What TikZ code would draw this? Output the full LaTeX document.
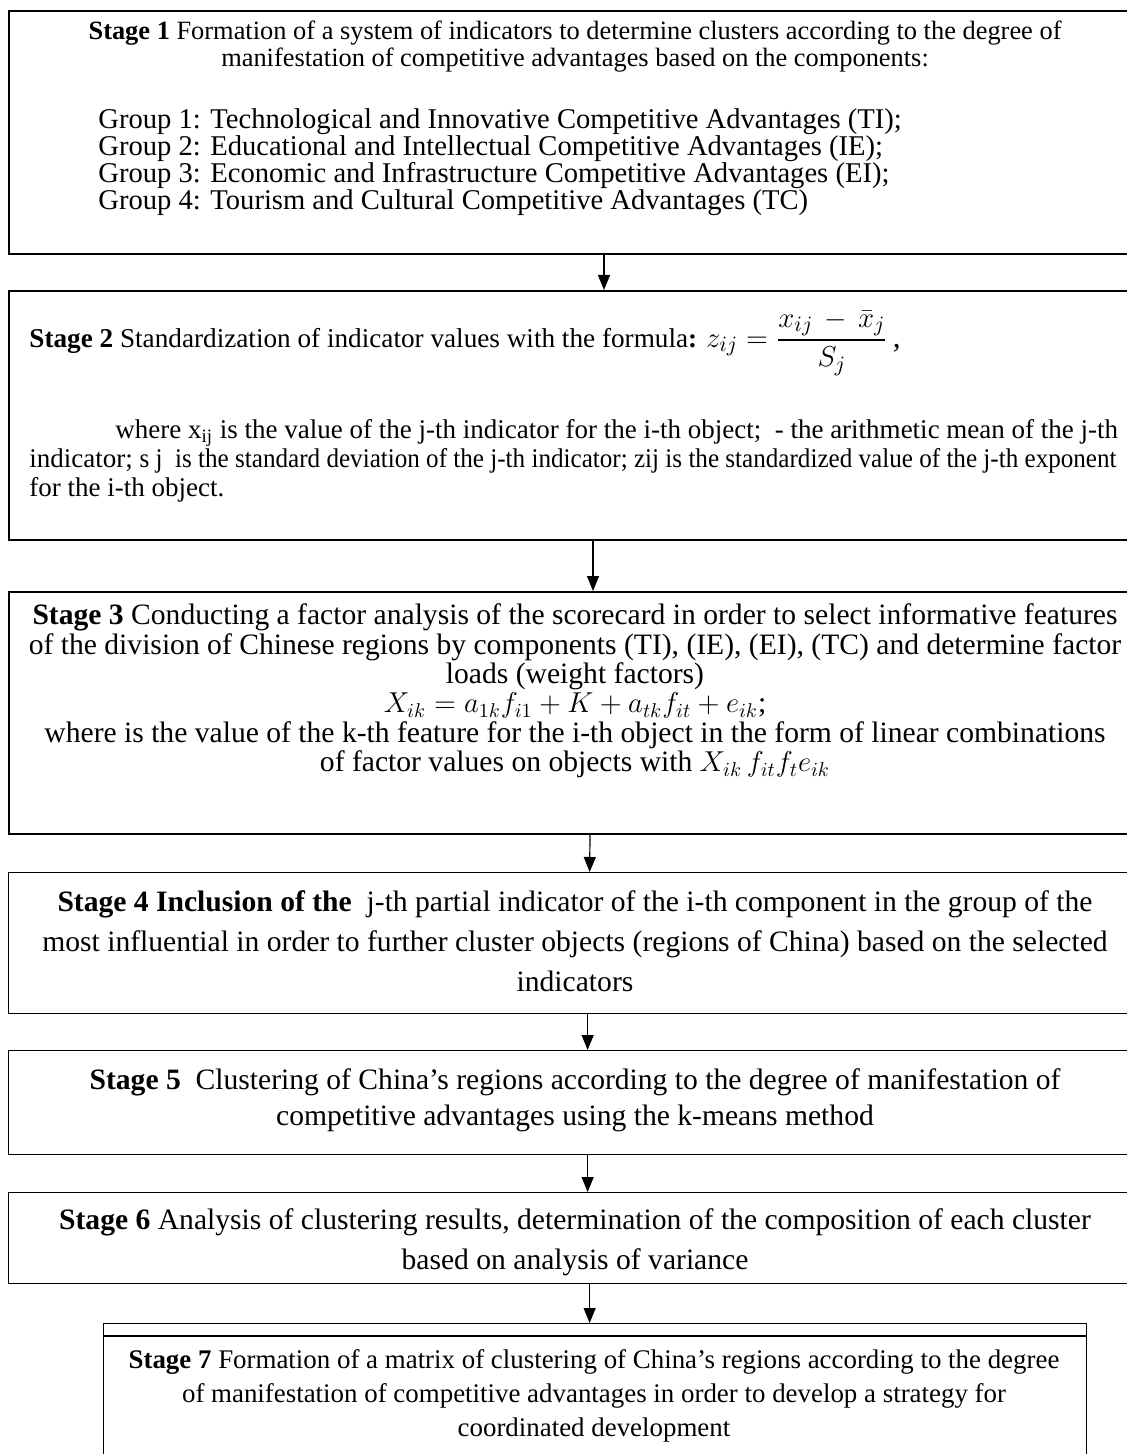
\documentclass[tikz,border=0pt]{standalone}
\usepackage{fontspec}
\setmainfont{Liberation Serif}
\usepackage{amsmath}
\usepackage{graphicx}
\usetikzlibrary{arrows.meta}

\newcommand{\fsz}[2]{\fontsize{#1}{#2}\selectfont}

\begin{document}
\begin{tikzpicture}[x=0.5pt,y=-0.5pt,
	stagebox/.style={draw,line width=0.65pt,inner sep=0pt,anchor=north west,minimum width=567pt},
	arr/.style={-{Triangle[length=7.5pt,width=6pt]},line width=0.6pt},
	txt/.style={align=center,inner sep=0pt}]
	\useasboundingbox (0,0) rectangle (1126,1454);
	\node[stagebox,line width=1pt,minimum height=121.5pt] (s1) at (8,10) {};
	\node[stagebox,line width=1pt,minimum height=124.5pt] (s2) at (8,290) {};
	\node[stagebox,line width=1pt,minimum height=121pt] (s3) at (8,591) {};
	\node[stagebox,minimum height=70.5pt] (s4) at (8,872) {};
	\node[stagebox,minimum height=52pt] (s5) at (8,1050) {};
	\node[stagebox,minimum height=45.5pt] (s6) at (8,1192) {};
	\node[stagebox,minimum height=78.5pt,minimum width=491.5pt] (s7) at (103,1323) {};
	\draw[line width=0.65pt] ([yshift=-6.5pt]s7.north west) -- ([yshift=-6.5pt]s7.north east);
	\node[txt,font=\fsz{13.2}{13.5}] (t1) at (575,47) {\textbf{Stage 1} Formation of a system of indicators to determine clusters according to the degree of\\manifestation of competitive advantages based on the components:};
	\node[txt,font=\fsz{14.3}{13.6},align=left,anchor=west] (g1) at (98,162) {Group 1: Technological and Innovative Competitive Advantages (TI);\\Group 2: Educational and Intellectual Competitive Advantages (IE);\\Group 3: Economic and Infrastructure Competitive Advantages (EI);\\Group 4: Tourism and Cultural Competitive Advantages (TC)};
	\node[txt,font=\fsz{13.6}{13.6},anchor=west] (t2) at (29,343) {\textbf{Stage 2} Standardization of indicator values with the formula\textbf{:} {\fsz{15.5}{15.5}$z_{ij}\;{=}\;\dfrac{x_{ij}\,-\,\bar{x}_{j}}{S_{j}}$\,,}};
	\node[txt,font=\fsz{13.5}{14.5},align=left,anchor=west] (w2) at (29,461) {\hspace*{43pt}where x\textsubscript{ij} is the value of the j-th indicator for the i-th object;\ \ - the arithmetic mean of the j-th\\indicator; \scalebox{0.93}[1]{s j\ \ is the standard deviation of the j-th indicator; zij is the standardized value of the j-th exponent}\\for the i-th object.};
	\node[txt,font=\fsz{14.8}{14.7}] (t3) at (575,691) {\textbf{Stage 3} Conducting a factor analysis of the scorecard in order to select informative features\\of the division of Chinese regions by components (TI), (IE), (EI), (TC) and determine factor\\loads (weight factors)\\$X_{ik}=a_{1k}f_{i1}+K+a_{tk}f_{it}+e_{ik}$;\\where is the value of the k-th feature for the i-th object in the form of linear combinations\\of factor values on objects with $X_{ik}\,f_{it}f_{t}e_{ik}$};
	\node[txt,font=\fsz{14.8}{20}] (t4) at (575,941) {\textbf{Stage 4 Inclusion of the}\ \ j-th partial indicator of the i-th component in the group of the\\most influential in order to further cluster objects (regions of China) based on the selected\\indicators};
	\node[txt,font=\fsz{14.8}{18}] (t5) at (575,1100) {\textbf{Stage 5}\ \ Clustering of China's regions according to the degree of manifestation of\\competitive advantages using the k-means method};
	\node[txt,font=\fsz{14.8}{20}] (t6) at (575,1242) {\textbf{Stage 6} Analysis of clustering results, determination of the composition of each cluster\\based on analysis of variance};
	\node[txt,font=\fsz{13.45}{17}] (t7) at (594,1396) {\textbf{Stage 7} Formation of a matrix of clustering of China's regions according to the degree\\of manifestation of competitive advantages in order to develop a strategy for\\coordinated development};
	\draw[arr] ([xshift=14pt]s1.south) -- ([xshift=14pt]s2.north);
	\draw[arr] ([xshift=8.5pt]s2.south) -- ([xshift=8.5pt]s3.north);
	\draw[arr] ([xshift=7pt]s3.south) -- ([xshift=7pt]s4.north);
	\draw[arr] ([xshift=6pt]s4.south) -- ([xshift=6pt]s5.north);
	\draw[arr] ([xshift=6pt]s5.south) -- ([xshift=6pt]s6.north);
	\draw[arr] ([xshift=7pt]s6.south) -- ([xshift=7pt]s6.south |- s7.north);
\end{tikzpicture}
\end{document}
